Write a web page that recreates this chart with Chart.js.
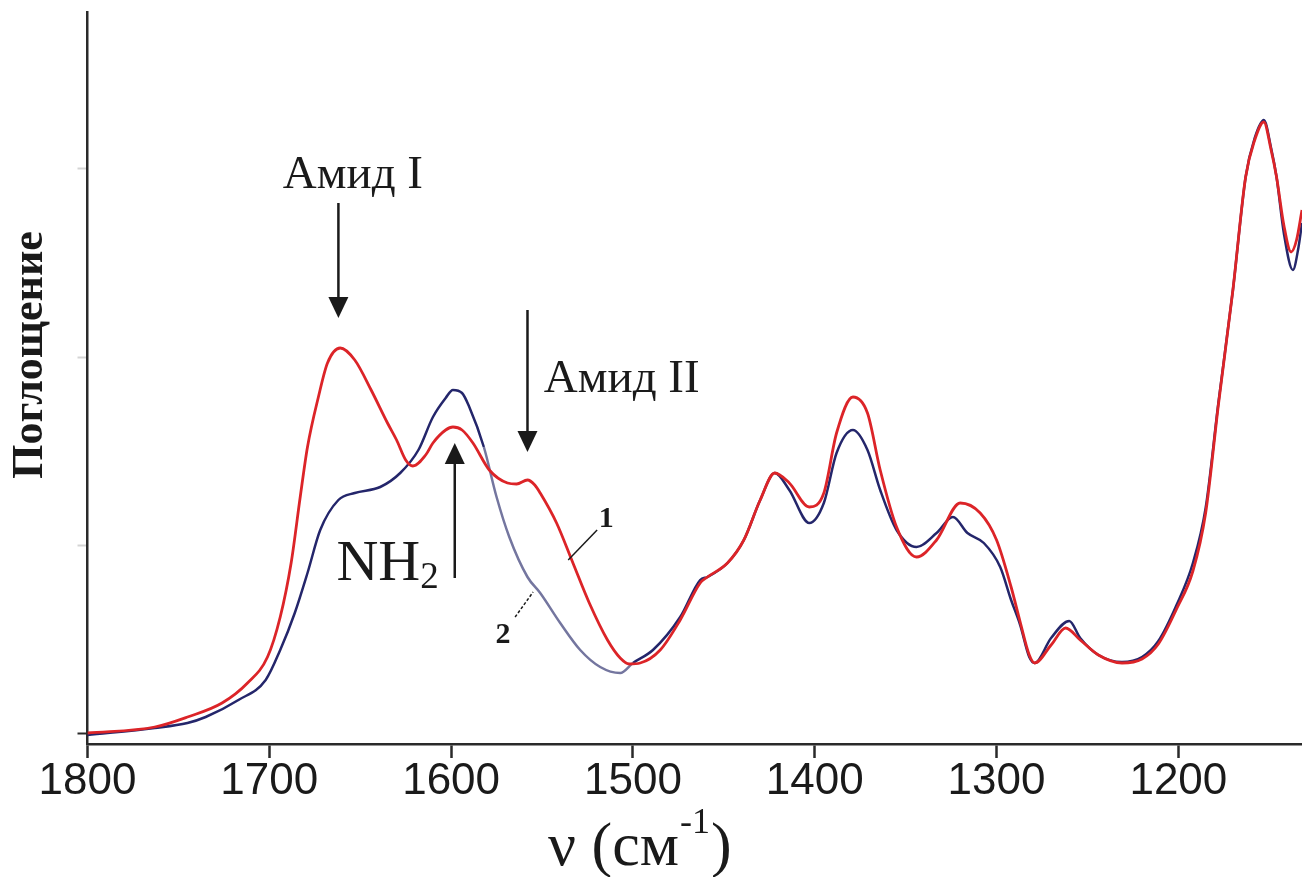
<!DOCTYPE html>
<html>
<head>
<meta charset="utf-8">
<script src="https://cdn.jsdelivr.net/npm/chart.js@4.4.1/dist/chart.umd.min.js"></script>
<style>
  html, body { margin: 0; padding: 0; background: #fff; }
  #wrap { width: 1302px; height: 877px; position: relative; }
</style>
</head>
<body>
<div id="wrap"><canvas id="spectrum"></canvas></div>
<script>
// curve 1 (red) – wavenumber, absorbance (arb. units)
const redNu = [1800,1763,1745,1726,1712,1701,1694,1688,1683,1679,1673,1668,1661,1653,1644,1635,1630,1625,1621,1614,
  1610,1603,1599,1594,1588,1579,1569,1564,1558,1554,1551,1542,1533,1524,1514,1507,1502,1496,1485,1474,
  1463,1459,1448,1439,1430,1422,1414,1403,1395,1388,1379,1371,1364,1355,1344,1333,1320,1309,1300,1292,
  1287,1282,1279,1270,1262,1254,1244,1231,1220,1211,1201,1192,1185,1178,1170,1163,1158,1153,1149,1146,
  1142,1138,1135,1132];
const redAbs = [0,6,16,30,50,76,116,170,236,286,336,370,385,373,343,310,293,273,267,278,
  290,303,306,303,290,263,250,249,253,248,240,210,170,130,93,75,69,70,83,113,
  150,156,170,193,233,260,250,226,240,300,336,320,263,206,176,193,230,220,193,146,
  111,78,70,88,105,93,78,70,74,89,124,162,220,328,443,556,593,611,583,556,
  508,481,493,523];

// curve 2 (blue)
const blueNu = [1800,1763,1745,1735,1717,1702,1694,1686,1679,1672,1662,1653,1639,1628,1618,1610,1603,1599,1594,1590,
  1582,1575,1568,1558,1551,1540,1529,1518,1507,1500,1489,1474,1463,1459,1448,1439,1430,1422,1414,1403,
  1395,1388,1379,1371,1364,1355,1344,1333,1324,1316,1307,1298,1292,1287,1282,1279,1270,1260,1254,1244,
  1231,1220,1211,1201,1192,1185,1178,1170,1163,1158,1153,1149,1146,1142,1137,1134,1132];
const blueAbs = [-2,5,10,16,33,53,83,120,160,203,233,240,246,260,283,316,335,343,340,326,
  286,236,196,156,140,110,83,66,60,70,83,116,153,156,170,193,233,260,243,210,
  230,280,303,283,243,203,186,200,216,200,190,166,133,108,76,70,95,112,95,78,
  71,76,92,128,170,225,330,443,556,595,613,585,556,500,463,485,510];

const xTicks = [1800, 1700, 1600, 1500, 1400, 1300, 1200];
const yTicks = [0, 188, 376, 564];

const SERIF = "'Liberation Serif', 'Times New Roman', serif";
const SANS = "'Liberation Sans', Arial, sans-serif";

const toPoints = (xs, ys) => xs.map((v, i) => ({ x: v, y: ys[i] }));

function drawArrow(ctx, x, yFrom, yTip) {
    const dir = Math.sign(yTip - yFrom);
    ctx.beginPath();
    ctx.moveTo(x, yFrom);
    ctx.lineTo(x, yTip - dir * 18);
    ctx.stroke();
    ctx.beginPath();
    ctx.moveTo(x, yTip);
    ctx.lineTo(x - 10, yTip - dir * 21);
    ctx.lineTo(x + 10, yTip - dir * 21);
    ctx.closePath();
    ctx.fill();
}

const annotations = {
    id: 'annotations',
    afterDatasetsDraw(chart) {
        const ctx = chart.ctx, xs = chart.scales.x, ys = chart.scales.y;
        const px = v => xs.getPixelForValue(v), py = v => ys.getPixelForValue(v);
        ctx.save();
        ctx.strokeStyle = '#1a1a1a';
        ctx.fillStyle = '#1a1a1a';
        ctx.lineWidth = 2.5;

        // arrows
        drawArrow(ctx, px(1662), py(530), py(415));
        drawArrow(ctx, px(1558), py(423), py(281));
        drawArrow(ctx, px(1598), py(155), py(290));

        // band labels
        ctx.textBaseline = 'alphabetic';
        ctx.font = `47px ${SERIF}`;
        ctx.textAlign = 'center';
        ctx.fillText('Амид I', px(1654), py(545));
        ctx.textAlign = 'left';
        ctx.fillText('Амид II', px(1549), py(341));

        ctx.font = `58px ${SERIF}`;
        ctx.textAlign = 'right';
        ctx.fillText('NH', px(1617), py(153));
        ctx.font = `37px ${SERIF}`;
        ctx.textAlign = 'left';
        ctx.fillText('2', px(1617), py(145));

        // curve numbers with leader lines
        ctx.font = `bold 30px ${SERIF}`;
        ctx.textAlign = 'center';
        ctx.fillText('1', px(1514.7), py(206));
        ctx.fillText('2', px(1571.4), py(90));
        ctx.lineWidth = 1.5;
        ctx.beginPath();
        ctx.moveTo(px(1519.7), py(203));
        ctx.lineTo(px(1535.6), py(173));
        ctx.stroke();
        ctx.setLineDash([3, 2]);
        ctx.beginPath();
        ctx.moveTo(px(1564.8), py(116));
        ctx.lineTo(px(1554.9), py(141));
        ctx.stroke();
        ctx.setLineDash([]);

        // axis titles
        ctx.font = `bold 44px ${SERIF}`;
        ctx.textAlign = 'center';
        ctx.textBaseline = 'middle';
        ctx.save();
        ctx.translate(31, 355);
        ctx.rotate(-Math.PI / 2);
        ctx.fillText('Поглощение', 0, 0);
        ctx.restore();

        ctx.textBaseline = 'alphabetic';
        ctx.textAlign = 'left';
        ctx.font = `62px ${SERIF}`;
        let tx = 548;
        const base = 865;
        ctx.fillText('ν (см', tx, base);
        tx += ctx.measureText('ν (см').width;
        ctx.font = `36px ${SERIF}`;
        ctx.fillText('-1', tx + 1, base - 32);
        tx += ctx.measureText('-1').width + 2;
        ctx.font = `62px ${SERIF}`;
        ctx.fillText(')', tx, base);
        ctx.restore();
    }
};

new Chart(document.getElementById('spectrum').getContext('2d'), {
    type: 'line',
    data: {
        datasets: [
            {
                label: '1',
                data: toPoints(redNu, redAbs),
                borderColor: '#dc2428',
                borderWidth: 2.8,
                pointRadius: 0,
                cubicInterpolationMode: 'monotone',
                fill: false
            },
            {
                label: '2',
                data: toPoints(blueNu, blueAbs),
                borderColor: '#24266b',
                borderWidth: 2.5,
                pointRadius: 0,
                cubicInterpolationMode: 'monotone',
                fill: false,
                segment: {
                    borderColor: c => (c.p0.parsed.x <= 1582 && c.p1.parsed.x >= 1500) ? '#74769f' : undefined
                }
            }
        ]
    },
    options: {
        responsive: true,
        maintainAspectRatio: false,
        animation: false,
        layout: { padding: { top: 12, right: 0, left: 0, bottom: 0 } },
        plugins: { legend: { display: false }, tooltip: { enabled: false } },
        scales: {
            x: {
                type: 'linear',
                reverse: true,
                min: 1132,
                max: 1800,
                afterBuildTicks: s => { s.ticks = xTicks.map(v => ({ value: v })); },
                afterFit: s => { s.height = 133; },
                grid: { drawOnChartArea: false, drawTicks: true, tickLength: 14, tickWidth: 2.5, tickColor: '#2a2a2a' },
                border: { display: true, color: '#2a2a2a', width: 2.5 },
                ticks: { color: '#1a1a1a', padding: 2, maxRotation: 0, autoSkip: false,
                         callback: v => String(v),
                         font: { family: SANS, size: 44, lineHeight: 1 } }
            },
            y: {
                type: 'linear',
                min: -11,
                max: 721,
                afterBuildTicks: s => { s.ticks = yTicks.map(v => ({ value: v })); },
                afterFit: s => { s.width = 87.5; },
                grid: { drawOnChartArea: false, drawTicks: true, tickLength: 10, tickWidth: 2,
                        tickColor: c => c.tick && c.tick.value === 0 ? '#2a2a2a' : 'rgba(40,40,40,0.2)' },
                border: { display: true, color: '#2a2a2a', width: 2.5 },
                ticks: { display: false }
            }
        }
    },
    plugins: [annotations]
});
</script>
</body>
</html>
